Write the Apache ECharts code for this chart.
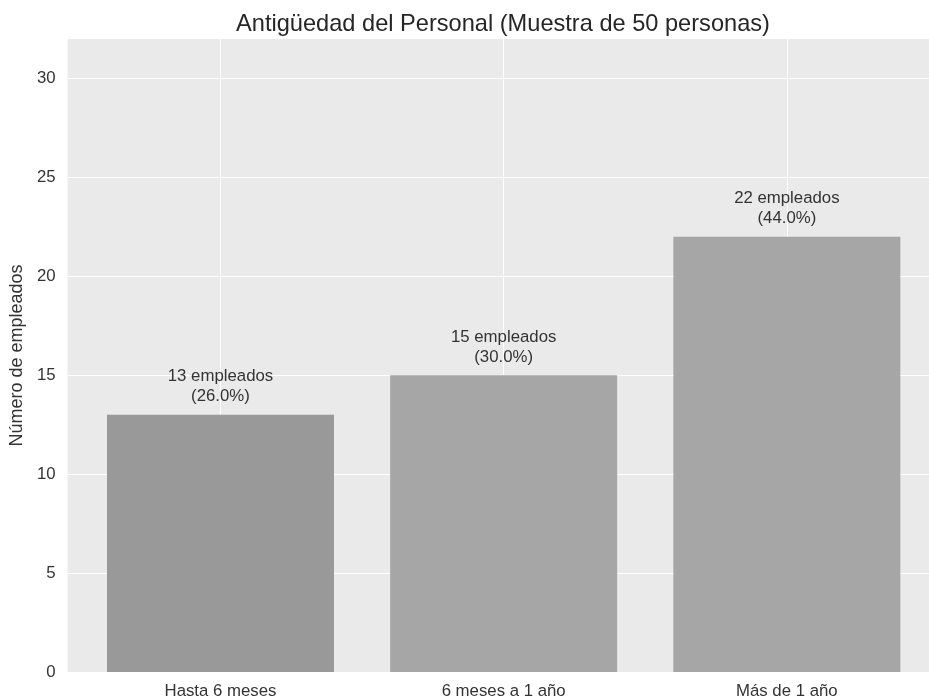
<!DOCTYPE html>
<html>
<head>
<meta charset="utf-8">
<script src="https://cdn.jsdelivr.net/npm/echarts@6/dist/echarts.min.js"></script>
<style>
html,body{margin:0;padding:0;background:#fff;overflow:hidden;}
#c{width:929px;height:700px;}
</style>
</head>
<body>
<div id="c"></div>
<script>
// ---- data ----
const categories = ['Hasta 6 meses', '6 meses a 1 año', 'Más de 1 año'];
const counts = [13, 15, 22];
const sampleSize = 50;
const yTicks = [0, 5, 10, 15, 20, 25, 30];

// ---- style ----
const barColors = ['#999999', '#a6a6a6', '#a6a6a6'];
const textColor = '#333333';
const fontFamily = '"Liberation Sans", Arial, sans-serif';

const chart = echarts.init(document.getElementById('c'), null, {renderer: 'canvas'});

const catPositions = categories.map((c, i) => i);
const barData = counts.map((v, i) => ({
  value: [i, v],
  itemStyle: {color: barColors[i]}
}));

chart.setOption({
  animation: false,
  backgroundColor: '#ffffff',
  textStyle: {fontFamily: fontFamily},
  title: {
    text: 'Antigüedad del Personal (Muestra de 50 personas)',
    left: 498,
    textAlign: 'center',
    top: 7,
    textStyle: {fontSize: 23.6, fontWeight: 'normal', color: '#262626', fontFamily: fontFamily}
  },
  grid: {
    left: 65, top: 39, right: 0, bottom: 27,
    containLabel: false,
    show: true, backgroundColor: '#eaeaea', borderWidth: 0
  },
  xAxis: {
    type: 'value',
    min: -0.54, max: 2.502,
    axisLine: {show: false},
    axisTick: {show: false, customValues: catPositions},
    splitLine: {show: true, lineStyle: {color: '#ffffff', width: 1}},
    axisLabel: {
      customValues: catPositions,
      fontSize: 16.8, color: textColor, margin: 11, fontFamily: fontFamily,
      formatter: function (v) {
        const r = Math.round(v);
        return categories[r] !== undefined ? categories[r] : '';
      }
    }
  },
  yAxis: {
    type: 'value',
    min: 0, max: 32, interval: 5,
    name: 'Número de empleados',
    nameLocation: 'middle',
    nameRotate: 90,
    nameGap: 40,
    nameTextStyle: {fontSize: 18, color: textColor, fontFamily: fontFamily},
    axisLine: {show: false},
    axisTick: {show: false},
    splitLine: {show: true, showMaxLine: false, lineStyle: {color: '#ffffff', width: 1}},
    axisLabel: {
      fontSize: 16.8, color: textColor, margin: 12, fontFamily: fontFamily,
      showMaxLabel: false,
      formatter: function (v) { return yTicks.indexOf(v) >= 0 ? String(v) : ''; }
    }
  },
  series: [{
    type: 'bar',
    data: barData,
    barWidth: 227,
    label: {
      show: true,
      position: 'top',
      distance: 8,
      fontSize: 16.8,
      lineHeight: 20,
      color: textColor,
      fontFamily: fontFamily,
      align: 'center',
      formatter: function (p) {
        const n = p.value[1];
        return n + ' empleados\n(' + (n / sampleSize * 100).toFixed(1) + '%)';
      }
    }
  }]
});
</script>
</body>
</html>
